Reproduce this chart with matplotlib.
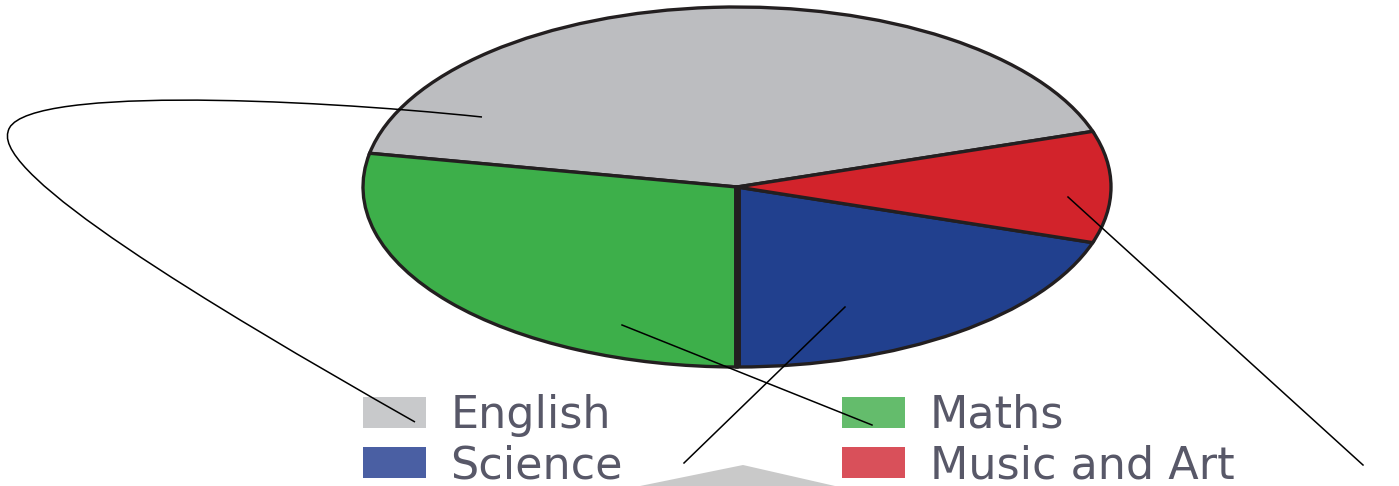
import matplotlib
matplotlib.use("Agg")
import numpy as np
import matplotlib.pyplot as plt
from matplotlib.patches import Patch, Polygon, PathPatch
from matplotlib.path import Path

categories = ["English", "Maths", "Science", "Music and Art"]
values = [42, 28, 20, 10]
pie_colors = ["#bcbdc0", "#3daf4a", "#21408e", "#d2232b"]
legend_colors = ["#c8c9cb", "#64bc6c", "#4a5fa3", "#d9505a"]
start_angle = 18

W, H = 1399, 486
fig = plt.figure(figsize=(W / 100, H / 100), dpi=100)

# pie axes (elliptical pie)
cx, cy, rx, ry = 737, 187, 374, 180
ax = fig.add_axes([(cx - rx) / W, (H - cy - ry) / H, 2 * rx / W, 2 * ry / H])
wedges, _ = ax.pie(values, colors=pie_colors, startangle=start_angle, counterclock=True,
                   wedgeprops=dict(edgecolor="#231f20", linewidth=2.4))
ax.set_aspect("auto")
ax.set_xlim(-1, 1)
ax.set_ylim(-1, 1)
ax.axis("off")
# heavier divider between Maths and Science
theta = np.deg2rad(start_angle + 360 * (values[0] + values[1]) / sum(values))
ax.plot([0, np.cos(theta)], [0, np.sin(theta)], color="#231f20", lw=5,
        solid_capstyle="butt", zorder=10)

# legend (two columns)
fs = 32
font = {"family": ["DejaVu Sans"], "size": fs, "weight": "normal"}
handles = [Patch(facecolor=c, edgecolor="none") for c in legend_colors]
for col_idx, xpix in [((0, 2), 363), ((1, 3), 842)]:
    leg = fig.legend([handles[i] for i in col_idx], [categories[i] for i in col_idx],
                     ncol=1, loc="upper left", bbox_to_anchor=(xpix / W, 1 - 394 / H),
                     frameon=False, handlelength=1.42, handleheight=0.70,
                     handletextpad=0.55, labelspacing=0.16,
                     borderpad=0, borderaxespad=0, prop=font)
    leg.set_zorder(3)
    for t in leg.get_texts():
        t.set_color("#585868")

# overlay axes in pixel coordinates for annotations (drawn above legend)
ov = fig.add_axes([0, 0, 1, 1], zorder=8)
ov.set_xlim(0, W)
ov.set_ylim(H, 0)
ov.axis("off")
ov.patch.set_alpha(0)

# decorative grey shape at bottom
ov.add_patch(Polygon([(640, 486), (743, 465), (835, 486)], closed=True,
                     facecolor="#c9c9c9", edgecolor="none", zorder=1))

# leader lines
lc = "black"
lw = 1.1
ov.plot([622, 872], [325, 425], color=lc, lw=lw, zorder=6)
ov.plot([845, 684], [307, 463], color=lc, lw=lw, zorder=6)
ov.plot([1068, 1363], [197, 465], color=lc, lw=lw, zorder=6)
verts = [(482, 117), (300, 98), (15, 86), (8, 132),
         (-5, 175), (200, 300), (415, 422)]
codes = [Path.MOVETO, Path.CURVE4, Path.CURVE4, Path.CURVE4,
         Path.CURVE4, Path.CURVE4, Path.CURVE4]
ov.add_patch(PathPatch(Path(verts, codes), facecolor="none", edgecolor=lc,
                       lw=lw, zorder=6))

fig.savefig("out.png", dpi=100)
